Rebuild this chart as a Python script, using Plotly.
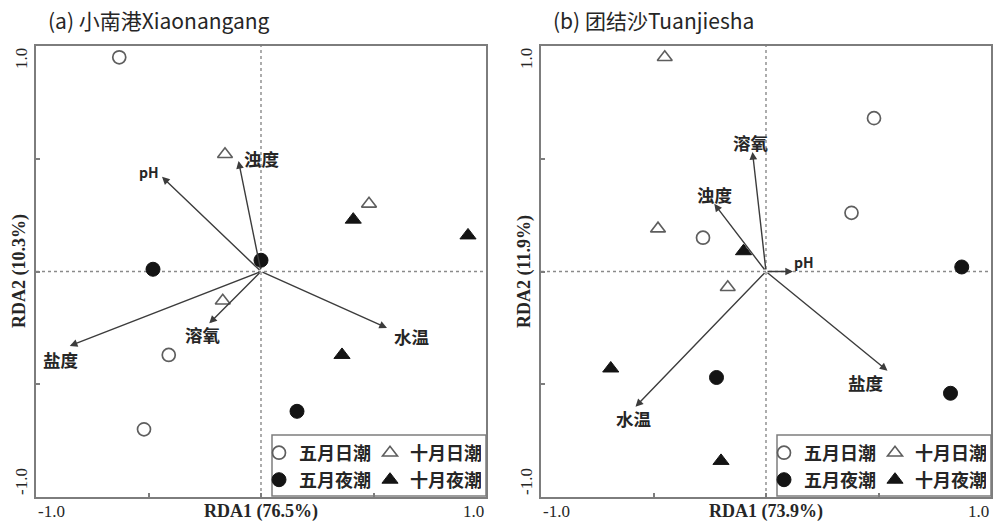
import plotly.graph_objects as go

W, H = 994, 525

# ---------------- data ----------------
series_names = ["五月日潮", "十月日潮", "五月夜潮", "十月夜潮"]

# Panel (a) 小南港
a_may_day_x = [-0.63, -0.41, -0.52]
a_may_day_y = [0.95, -0.37, -0.70]
a_oct_day_x = [-0.16, 0.48, -0.17]
a_oct_day_y = [0.52, 0.30, -0.13]
a_may_night_x = [-0.48, 0.00, 0.16]
a_may_night_y = [0.01, 0.05, -0.62]
a_oct_night_x = [0.41, 0.92, 0.36]
a_oct_night_y = [0.23, 0.16, -0.37]

a_env_names = ["pH", "浊度", "溶氧", "盐度", "水温"]
a_env_x = [-0.44, -0.10, -0.23, -0.85, 0.56]
a_env_y = [0.42, 0.49, -0.23, -0.33, -0.25]
a_lab_x = [-0.50, 0.00, -0.26, -0.89, 0.67]
a_lab_y = [0.44, 0.50, -0.28, -0.39, -0.29]

# Panel (b) 团结沙
b_may_day_x = [0.48, 0.38, -0.28]
b_may_day_y = [0.68, 0.26, 0.15]
b_oct_day_x = [-0.45, -0.48, -0.17]
b_oct_day_y = [0.95, 0.19, -0.07]
b_may_night_x = [0.87, -0.22, 0.82]
b_may_night_y = [0.02, -0.47, -0.54]
b_oct_night_x = [-0.10, -0.69, -0.20]
b_oct_night_y = [0.09, -0.43, -0.84]

b_env_names = ["溶氧", "浊度", "pH", "水温", "盐度"]
b_env_x = [-0.06, -0.23, 0.12, -0.58, 0.54]
b_env_y = [0.53, 0.30, 0.00, -0.60, -0.44]
b_lab_x = [-0.07, -0.23, 0.17, -0.59, 0.44]
b_lab_y = [0.57, 0.34, 0.04, -0.65, -0.49]

titles = ["(a) 小南港Xiaonangang", "(b) 团结沙Tuanjiesha"]
x_titles = ["RDA1 (76.5%)", "RDA1 (73.9%)"]
y_titles = ["RDA2 (10.3%)", "RDA2 (11.9%)"]
tick_lo, tick_hi = "-1.0", "1.0"

# ---------------- style ----------------
CJK = "Noto Sans CJK SC"
SERIF = "Liberation Serif"
AXC = "#7d7d7d"
OPEN_LINE = "#5e5e5e"
FILL = "#141414"
ARROW = "#3c3c3c"
TXT = "#262626"

styles = [
    dict(symbol="circle", size=13, color="white", line=dict(color=OPEN_LINE, width=1.7)),
    dict(symbol="triangle-up", size=13, color="white", line=dict(color=OPEN_LINE, width=1.6)),
    dict(symbol="circle", size=14, color=FILL, line=dict(color=FILL, width=1)),
    dict(symbol="triangle-up", size=14, color=FILL, line=dict(color=FILL, width=1)),
]

panels = [
    dict(xs=[a_may_day_x, a_oct_day_x, a_may_night_x, a_oct_night_x],
         ys=[a_may_day_y, a_oct_day_y, a_may_night_y, a_oct_night_y],
         env=(a_env_names, a_env_x, a_env_y, a_lab_x, a_lab_y),
         xref="x", yref="y", legends=["legend", "legend2"]),
    dict(xs=[b_may_day_x, b_oct_day_x, b_may_night_x, b_oct_night_x],
         ys=[b_may_day_y, b_oct_day_y, b_may_night_y, b_oct_night_y],
         env=(b_env_names, b_env_x, b_env_y, b_lab_x, b_lab_y),
         xref="x2", yref="y2", legends=["legend3", "legend4"]),
]

fig = go.Figure()
annotations = []
shapes = []

for p in panels:
    for i in range(4):
        fig.add_trace(go.Scatter(
            x=p["xs"][i], y=p["ys"][i], mode="markers",
            marker=styles[i], name=series_names[i],
            xaxis=p["xref"], yaxis=p["yref"],
            legend=p["legends"][0] if i in (0, 1) else p["legends"][1],
            hoverinfo="skip",
        ))
    # dotted zero lines
    shapes.append(dict(type="line", xref=p["xref"], yref=p["yref"], x0=0, x1=0, y0=-1, y1=1,
                       line=dict(color="#8a8a8a", width=1.4, dash="dot"), layer="below"))
    shapes.append(dict(type="line", xref=p["xref"], yref=p["yref"], x0=-1, x1=1, y0=0, y1=0,
                       line=dict(color="#8a8a8a", width=1.4, dash="dot"), layer="below"))
    names, ex, ey, lx, ly = p["env"]
    for n, x, y, tx, ty in zip(names, ex, ey, lx, ly):
        annotations.append(dict(x=x, y=y, ax=0, ay=0, xref=p["xref"], yref=p["yref"],
                                axref=p["xref"], ayref=p["yref"], text=" ", font=dict(size=1),
                                showarrow=True, arrowhead=2, arrowsize=1.1, arrowwidth=1.4,
                                arrowcolor=ARROW, standoff=0, startstandoff=0))
        is_ph = (n == "pH")
        annotations.append(dict(x=tx, y=ty, xref=p["xref"], yref=p["yref"], text=n, showarrow=False,
                                font=dict(family=CJK, size=14 if is_ph else 17.5, color=TXT,
                                          weight="bold")))

# tick labels, axis titles, panel titles
for k, (xr, yr) in enumerate([("x", "y"), ("x2", "y2")]):
    xd = xr + " domain"
    yd = yr + " domain"
    annotations.append(dict(x=-1, xref=xr, y=0, yref=yd, text=tick_lo, showarrow=False,
                            xanchor="left", yanchor="top", yshift=-3,
                            font=dict(family=SERIF, size=17, color=TXT)))
    annotations.append(dict(x=1, xref=xr, y=0, yref=yd, text=tick_hi, showarrow=False,
                            xanchor="right", yanchor="top", yshift=-3,
                            font=dict(family=SERIF, size=17, color=TXT)))
    annotations.append(dict(x=0, xref=xd, y=1, yref=yr, text=tick_hi, showarrow=False,
                            xanchor="right", yanchor="top", xshift=-3, textangle=-90,
                            font=dict(family=SERIF, size=17, color=TXT)))
    annotations.append(dict(x=0, xref=xd, y=-1, yref=yr, text=tick_lo, showarrow=False,
                            xanchor="right", yanchor="bottom", xshift=-3, textangle=-90,
                            font=dict(family=SERIF, size=17, color=TXT)))
    annotations.append(dict(x=0, xref=xr, y=0, yref=yd, text="<b>%s</b>" % x_titles[k], showarrow=False,
                            xanchor="center", yanchor="top", yshift=-2,
                            font=dict(family=SERIF, size=18, color=TXT)))
    annotations.append(dict(x=0, xref=xd, y=0, yref=yr, text="<b>%s</b>" % y_titles[k], showarrow=False,
                            xanchor="right", yanchor="middle", xshift=-4, textangle=-90,
                            font=dict(family=SERIF, size=18, color=TXT)))
    annotations.append(dict(x=0, xref=xd, y=1, yref="paper", text=titles[k], showarrow=False,
                            xanchor="left", yanchor="middle", xshift=10, yshift=-20,
                            font=dict(family=CJK, size=21, color=TXT)))

# legend boxes
for (x0, x1) in [(272, 486), (777, 991)]:
    shapes.append(dict(type="rect", xref="paper", yref="paper", x0=x0 / W, x1=x1 / W,
                       y0=(H - 496) / H, y1=(H - 435) / H,
                       line=dict(color=AXC, width=1.5), fillcolor="white", layer="below"))

axis_common = dict(range=[-1, 1], showgrid=False, zeroline=False, showline=True, linecolor=AXC,
                   linewidth=2, mirror=True, ticks="inside", ticklen=4, tickcolor=AXC, tickwidth=1.5,
                   tickvals=[-0.5, 0, 0.5], showticklabels=False, fixedrange=True)

leg_common = dict(orientation="h", xanchor="left", yanchor="middle", bgcolor="rgba(0,0,0,0)",
                  font=dict(family=CJK, size=18, color=TXT, weight="bold"),
                  entrywidth=66, entrywidthmode="pixels", itemclick=False, itemdoubleclick=False,
                  tracegroupgap=0)

fig.update_layout(
    width=W, height=H, margin=dict(l=0, r=0, t=0, b=0),
    paper_bgcolor="white", plot_bgcolor="white",
    xaxis=dict(domain=[36 / W, 486 / W], anchor="y", **axis_common),
    yaxis=dict(domain=[(H - 497) / H, (H - 46) / H], anchor="x", **axis_common),
    xaxis2=dict(domain=[541 / W, 991 / W], anchor="y2", **axis_common),
    yaxis2=dict(domain=[(H - 497) / H, (H - 46) / H], anchor="x2", **axis_common),
    legend=dict(x=259 / W, y=(H - 453) / H, **leg_common),
    legend2=dict(x=259 / W, y=(H - 480) / H, **leg_common),
    legend3=dict(x=764 / W, y=(H - 453) / H, **leg_common),
    legend4=dict(x=764 / W, y=(H - 480) / H, **leg_common),
    showlegend=True,
    annotations=annotations,
    shapes=shapes,
)

fig.write_html("out.html")
